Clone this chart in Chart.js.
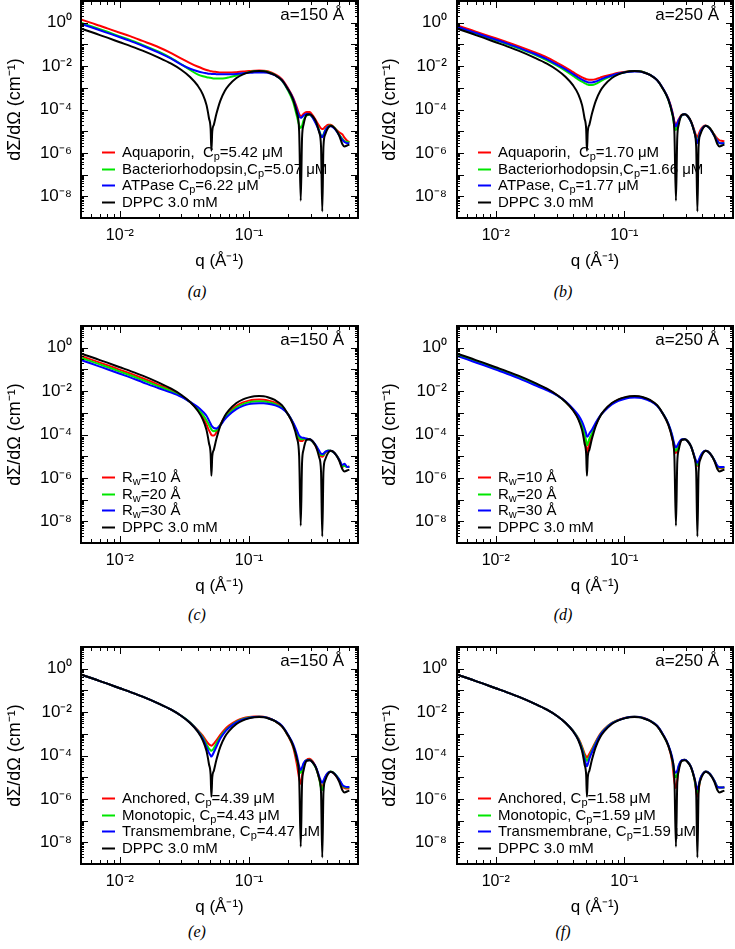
<!DOCTYPE html>
<html>
<head>
<meta charset="utf-8">
<script src="https://cdn.jsdelivr.net/npm/chart.js@4.4.0/dist/chart.umd.min.js"></script>
<style>
  body { margin: 0; background: #fff; width: 735px; height: 949px; position: relative; overflow: hidden; }
  .panel { position: absolute; }
  .cap { position: absolute; font: italic 16px "Liberation Serif", "DejaVu Serif", serif; transform: translate(-50%, -50%); }
</style>
</head>
<body>
<script>
// q values (1/Å) shared by every curve
const q = [0.005, 0.006, 0.007, 0.008, 0.01, 0.012, 0.015, 0.02, 0.025, 0.03,
  0.035, 0.04, 0.044, 0.047, 0.049, 0.0505, 0.0512, 0.052, 0.0535, 0.056,
  0.06, 0.065, 0.07, 0.08, 0.09, 0.1, 0.11, 0.12, 0.13, 0.14,
  0.16, 0.18, 0.2, 0.22, 0.235, 0.245, 0.252, 0.258, 0.265, 0.28,
  0.295, 0.31, 0.33, 0.35, 0.362, 0.37, 0.378, 0.39, 0.41, 0.43,
  0.46, 0.5, 0.53, 0.55, 0.58, 0.6];

// log10 of dΣ/dΩ (cm^-1)
const dppc = [-0.27, -0.43, -0.57, -0.69, -0.90, -1.07, -1.29, -1.61, -1.89, -2.18,
  -2.50, -2.89, -3.31, -3.81, -4.39, -4.90, -5.90, -5.00, -4.70, -4.20,
  -3.60, -3.15, -2.88, -2.55, -2.38, -2.29, -2.24, -2.23, -2.24, -2.28,
  -2.42, -2.65, -3.05, -3.55, -4.15, -5.00, -8.20, -5.30, -4.70, -4.25,
  -4.22, -4.30, -4.55, -5.05, -5.70, -8.70, -5.70, -5.15, -4.85, -4.75,
  -4.85, -5.20, -5.60, -5.70, -5.65, -5.62];

// (a) a=150
const aqp150 = [0.15, -0.01, -0.14, -0.26, -0.46, -0.62, -0.84, -1.13, -1.40, -1.66,
  -1.86, -2.02, -2.12, -2.18, -2.21, -2.23, -2.24, -2.25, -2.26, -2.27,
  -2.29, -2.30, -2.30, -2.28, -2.25, -2.23, -2.21, -2.20, -2.21, -2.24,
  -2.38, -2.60, -3.00, -3.45, -3.90, -4.20, -4.30, -4.28, -4.20, -4.12,
  -4.12, -4.25, -4.50, -4.75, -4.87, -4.90, -4.88, -4.80, -4.70, -4.70,
  -4.85, -5.05, -5.15, -5.30, -5.45, -5.50];
const bR150 = [0.00, -0.16, -0.30, -0.42, -0.63, -0.80, -1.02, -1.34, -1.63, -1.92,
  -2.18, -2.38, -2.47, -2.51, -2.53, -2.54, -2.55, -2.56, -2.57, -2.57,
  -2.57, -2.56, -2.52, -2.43, -2.34, -2.28, -2.24, -2.23, -2.24, -2.27,
  -2.42, -2.67, -3.10, -3.65, -4.30, -4.72, -4.85, -4.75, -4.50, -4.28,
  -4.24, -4.35, -4.60, -4.95, -5.20, -5.25, -5.15, -4.95, -4.78, -4.74,
  -4.85, -5.15, -5.35, -5.45, -5.50, -5.52];
const atp150 = [-0.05, -0.21, -0.35, -0.47, -0.67, -0.84, -1.06, -1.38, -1.66, -1.93,
  -2.12, -2.24, -2.30, -2.33, -2.35, -2.35, -2.36, -2.36, -2.36, -2.37,
  -2.37, -2.37, -2.37, -2.36, -2.33, -2.31, -2.30, -2.29, -2.29, -2.31,
  -2.43, -2.65, -3.05, -3.50, -4.00, -4.30, -4.38, -4.35, -4.28, -4.20,
  -4.22, -4.35, -4.65, -5.00, -5.22, -5.28, -5.18, -4.98, -4.80, -4.77,
  -4.88, -5.18, -5.40, -5.50, -5.55, -5.55];

// (b) a=250
const aqp250 = [-0.12, -0.28, -0.41, -0.53, -0.72, -0.88, -1.08, -1.36, -1.60, -1.85,
  -2.07, -2.28, -2.43, -2.52, -2.57, -2.60, -2.61, -2.62, -2.63, -2.63,
  -2.60, -2.53, -2.47, -2.38, -2.31, -2.27, -2.24, -2.23, -2.24, -2.27,
  -2.42, -2.65, -3.05, -3.50, -4.05, -4.55, -4.72, -4.60, -4.45, -4.25,
  -4.22, -4.30, -4.55, -4.95, -5.20, -5.27, -5.15, -4.95, -4.78, -4.74,
  -4.85, -5.15, -5.35, -5.42, -5.45, -5.47];
const bR250 = [-0.21, -0.37, -0.50, -0.62, -0.81, -0.97, -1.18, -1.47, -1.73, -1.98,
  -2.22, -2.45, -2.62, -2.72, -2.78, -2.82, -2.84, -2.85, -2.87, -2.87,
  -2.82, -2.70, -2.60, -2.45, -2.35, -2.29, -2.25, -2.23, -2.24, -2.27,
  -2.42, -2.65, -3.05, -3.55, -4.15, -4.75, -4.95, -4.80, -4.55, -4.27,
  -4.22, -4.30, -4.57, -5.00, -5.35, -5.50, -5.30, -5.05, -4.82, -4.75,
  -4.85, -5.18, -5.45, -5.55, -5.55, -5.55];
const atp250 = [-0.18, -0.34, -0.47, -0.59, -0.78, -0.94, -1.15, -1.43, -1.68, -1.93,
  -2.15, -2.37, -2.53, -2.62, -2.68, -2.71, -2.73, -2.74, -2.75, -2.75,
  -2.71, -2.62, -2.54, -2.43, -2.34, -2.29, -2.26, -2.25, -2.25, -2.28,
  -2.42, -2.65, -3.03, -3.52, -4.08, -4.60, -4.78, -4.65, -4.48, -4.26,
  -4.22, -4.30, -4.57, -5.00, -5.38, -5.55, -5.35, -5.05, -4.82, -4.75,
  -4.86, -5.20, -5.45, -5.55, -5.55, -5.55];

// (c) a=150, wall radius
const rw10a150 = [-0.39, -0.55, -0.69, -0.81, -1.02, -1.19, -1.41, -1.71, -1.96, -2.22,
  -2.50, -2.85, -3.20, -3.55, -3.80, -3.95, -4.02, -4.05, -4.05, -3.90,
  -3.55, -3.20, -2.98, -2.68, -2.52, -2.44, -2.40, -2.39, -2.40, -2.43,
  -2.53, -2.72, -3.05, -3.50, -3.95, -4.25, -4.30, -4.30, -4.25, -4.20,
  -4.22, -4.32, -4.55, -4.85, -5.00, -5.02, -4.98, -4.85, -4.75, -4.75,
  -4.85, -5.15, -5.50, -5.40, -5.50, -5.48];
const rw20a150 = [-0.47, -0.63, -0.77, -0.89, -1.10, -1.27, -1.49, -1.78, -2.01, -2.24,
  -2.50, -2.80, -3.10, -3.35, -3.55, -3.70, -3.77, -3.82, -3.85, -3.80,
  -3.55, -3.25, -3.03, -2.75, -2.60, -2.52, -2.48, -2.47, -2.48, -2.50,
  -2.60, -2.76, -3.05, -3.48, -3.90, -4.15, -4.22, -4.22, -4.20, -4.20,
  -4.22, -4.32, -4.52, -4.80, -4.93, -4.95, -4.93, -4.82, -4.74, -4.75,
  -4.85, -5.15, -5.45, -5.45, -5.50, -5.48];
const rw30a150 = [-0.57, -0.73, -0.87, -0.99, -1.20, -1.37, -1.59, -1.87, -2.07, -2.27,
  -2.50, -2.72, -2.95, -3.15, -3.35, -3.50, -3.58, -3.63, -3.70, -3.72,
  -3.58, -3.30, -3.10, -2.83, -2.68, -2.60, -2.57, -2.56, -2.56, -2.58,
  -2.66, -2.80, -3.05, -3.45, -3.80, -4.05, -4.12, -4.15, -4.15, -4.20,
  -4.22, -4.30, -4.50, -4.75, -4.88, -4.90, -4.88, -4.80, -4.75, -4.75,
  -4.85, -5.15, -5.40, -5.35, -5.50, -5.48];

// (d) a=250, wall radius
const rw10a250 = [-0.31, -0.47, -0.61, -0.73, -0.94, -1.11, -1.33, -1.65, -1.91, -2.18,
  -2.50, -2.88, -3.28, -3.70, -4.15, -4.60, -4.85, -4.70, -4.40, -4.05,
  -3.55, -3.15, -2.90, -2.57, -2.40, -2.31, -2.26, -2.25, -2.26, -2.30,
  -2.44, -2.67, -3.05, -3.55, -4.10, -4.70, -4.85, -4.75, -4.50, -4.25,
  -4.22, -4.30, -4.55, -5.00, -5.35, -5.45, -5.30, -5.05, -4.82, -4.75,
  -4.85, -5.18, -5.50, -5.55, -5.55, -5.55];
const rw20a250 = [-0.34, -0.50, -0.64, -0.76, -0.97, -1.14, -1.36, -1.68, -1.93, -2.19,
  -2.50, -2.86, -3.22, -3.58, -3.95, -4.30, -4.50, -4.42, -4.20, -3.95,
  -3.52, -3.15, -2.90, -2.58, -2.41, -2.32, -2.27, -2.26, -2.27, -2.31,
  -2.45, -2.67, -3.05, -3.52, -4.05, -4.60, -4.75, -4.65, -4.45, -4.24,
  -4.22, -4.30, -4.55, -5.00, -5.30, -5.40, -5.27, -5.03, -4.82, -4.75,
  -4.85, -5.17, -5.48, -5.52, -5.52, -5.52];
const rw30a250 = [-0.38, -0.54, -0.68, -0.80, -1.01, -1.18, -1.40, -1.72, -1.96, -2.20,
  -2.48, -2.82, -3.12, -3.42, -3.70, -3.95, -4.10, -4.08, -3.95, -3.78,
  -3.45, -3.13, -2.92, -2.62, -2.45, -2.36, -2.31, -2.30, -2.31, -2.34,
  -2.47, -2.68, -3.05, -3.50, -4.00, -4.45, -4.60, -4.52, -4.38, -4.22,
  -4.22, -4.30, -4.55, -4.98, -5.22, -5.30, -5.20, -5.00, -4.80, -4.75,
  -4.85, -5.17, -5.45, -5.50, -5.50, -5.50];

// (e) a=150, protein type
const anc150 = [-0.27, -0.43, -0.57, -0.69, -0.90, -1.07, -1.29, -1.61, -1.89, -2.18,
  -2.48, -2.82, -3.10, -3.35, -3.48, -3.53, -3.55, -3.53, -3.45, -3.30,
  -3.05, -2.80, -2.62, -2.40, -2.28, -2.22, -2.20, -2.20, -2.21, -2.26,
  -2.42, -2.66, -3.08, -3.62, -4.40, -5.05, -5.30, -4.95, -4.50, -4.20,
  -4.15, -4.25, -4.55, -5.05, -5.40, -5.45, -5.30, -5.00, -4.80, -4.75,
  -4.85, -5.15, -5.42, -5.50, -5.52, -5.52];
const mono150 = [-0.27, -0.43, -0.57, -0.69, -0.90, -1.07, -1.29, -1.61, -1.89, -2.18,
  -2.48, -2.84, -3.17, -3.50, -3.68, -3.76, -3.78, -3.76, -3.66, -3.45,
  -3.15, -2.88, -2.70, -2.45, -2.32, -2.25, -2.22, -2.21, -2.22, -2.27,
  -2.42, -2.65, -3.05, -3.55, -4.15, -4.65, -4.80, -4.65, -4.40, -4.22,
  -4.20, -4.30, -4.57, -5.05, -5.50, -5.60, -5.40, -5.05, -4.80, -4.74,
  -4.83, -5.10, -5.38, -5.45, -5.47, -5.47];
const trans150 = [-0.27, -0.43, -0.57, -0.69, -0.90, -1.07, -1.29, -1.61, -1.89, -2.18,
  -2.49, -2.86, -3.23, -3.62, -3.88, -4.00, -4.05, -4.00, -3.85, -3.60,
  -3.22, -2.92, -2.72, -2.47, -2.34, -2.27, -2.23, -2.22, -2.23, -2.27,
  -2.41, -2.63, -3.02, -3.48, -4.00, -4.50, -4.67, -4.55, -4.35, -4.22,
  -4.22, -4.30, -4.53, -4.95, -5.18, -5.25, -5.15, -4.98, -4.80, -4.75,
  -4.84, -5.10, -5.35, -5.42, -5.45, -5.45];

// (f) a=250, protein type
const anc250 = [-0.27, -0.43, -0.57, -0.69, -0.90, -1.07, -1.29, -1.61, -1.89, -2.18,
  -2.50, -2.86, -3.22, -3.60, -3.90, -4.05, -4.10, -4.05, -3.92, -3.70,
  -3.35, -3.00, -2.78, -2.50, -2.36, -2.27, -2.22, -2.21, -2.22, -2.26,
  -2.41, -2.64, -3.05, -3.57, -4.25, -5.20, -5.50, -5.15, -4.60, -4.23,
  -4.20, -4.28, -4.53, -5.05, -5.65, -5.90, -5.60, -5.10, -4.83, -4.74,
  -4.83, -5.15, -5.45, -5.48, -5.48, -5.47];
const mono250 = [-0.27, -0.43, -0.57, -0.69, -0.90, -1.07, -1.29, -1.61, -1.89, -2.18,
  -2.50, -2.87, -3.25, -3.66, -4.00, -4.20, -4.25, -4.20, -4.05, -3.78,
  -3.40, -3.03, -2.80, -2.51, -2.37, -2.28, -2.23, -2.22, -2.23, -2.27,
  -2.41, -2.64, -3.05, -3.55, -4.12, -4.85, -5.00, -4.85, -4.50, -4.23,
  -4.20, -4.28, -4.53, -5.05, -5.55, -5.70, -5.50, -5.08, -4.83, -4.74,
  -4.83, -5.15, -5.45, -5.48, -5.48, -5.47];
const trans250 = [-0.27, -0.43, -0.57, -0.69, -0.90, -1.07, -1.29, -1.61, -1.89, -2.18,
  -2.50, -2.88, -3.28, -3.74, -4.15, -4.42, -4.50, -4.40, -4.15, -3.85,
  -3.45, -3.06, -2.82, -2.52, -2.37, -2.28, -2.23, -2.22, -2.23, -2.27,
  -2.41, -2.63, -3.03, -3.52, -4.05, -4.70, -4.80, -4.70, -4.45, -4.22,
  -4.20, -4.28, -4.52, -5.00, -5.40, -5.55, -5.40, -5.05, -4.82, -4.74,
  -4.83, -5.15, -5.45, -5.47, -5.47, -5.46];

// tick label exponents
const xTickExp = [-2, -1];
const yTickExp = [0, -2, -4, -6, -8];

const colors = ['#ff0000', '#00e600', '#0000ff', '#000000'];
const FONT = '"Liberation Sans", Arial, sans-serif';

const panels = [
  { cap: '(a)', col: 0, row: 0, note: 'a=150 Å', sets: [aqp150, bR150, atp150],
    labels: ['Aquaporin,  C_p=5.42 μM', 'Bacteriorhodopsin,C_p=5.07 μM', 'ATPase C_p=6.22 μM'] },
  { cap: '(b)', col: 1, row: 0, note: 'a=250 Å', sets: [aqp250, bR250, atp250],
    labels: ['Aquaporin,  C_p=1.70 μM', 'Bacteriorhodopsin,C_p=1.66 μM', 'ATPase, C_p=1.77 μM'] },
  { cap: '(c)', col: 0, row: 1, note: 'a=150 Å', sets: [rw10a150, rw20a150, rw30a150],
    labels: ['R_w=10 Å', 'R_w=20 Å', 'R_w=30 Å'] },
  { cap: '(d)', col: 1, row: 1, note: 'a=250 Å', sets: [rw10a250, rw20a250, rw30a250],
    labels: ['R_w=10 Å', 'R_w=20 Å', 'R_w=30 Å'] },
  { cap: '(e)', col: 0, row: 2, note: 'a=150 Å', sets: [anc150, mono150, trans150],
    labels: ['Anchored, C_p=4.39 μM', 'Monotopic, C_p=4.43 μM', 'Transmembrane, C_p=4.47 μM'] },
  { cap: '(f)', col: 1, row: 2, note: 'a=250 Å', sets: [anc250, mono250, trans250],
    labels: ['Anchored, C_p=1.58 μM', 'Monotopic, C_p=1.59 μM', 'Transmembrane, C_p=1.59 μM'] }
];

const rowTop = [0, 325, 646];
const capY = [292, 615, 932];
const colGeom = [
  { left: 0, width: 367, yW: 81, padR: 9, tickPad: 9, titlePad: 4, capX: 197 },
  { left: 367, width: 368, yW: 90, padR: 2, tickPad: 10, titlePad: 12, capX: 563 }
];
const legendRows = [66, 49, 33, 16];

const sup = s => String(s).replace(/[-0-9]/g, c => '⁻⁰¹²³⁴⁵⁶⁷⁸⁹'['-0123456789'.indexOf(c)]);
const powLabel = v => '10' + sup(Math.round(Math.log10(v)));

function drawRich(ctx, text, x, y, size) {
  for (const part of text.split(/(_.)/)) {
    if (!part) continue;
    const sub = part[0] === '_';
    const s = sub ? part.slice(1) : part;
    ctx.font = (sub ? Math.round(size * 0.72) : size) + 'px ' + FONT;
    ctx.fillText(s, x, sub ? y + size * 0.3 : y);
    x += ctx.measureText(s).width;
  }
}

// frame with inward ticks, the "a=" note and the legend
const deco = {
  id: 'deco',
  afterDraw(chart, args, opts) {
    const { ctx, chartArea: ca, scales: { x, y } } = chart;
    ctx.save();
    ctx.strokeStyle = '#000';
    ctx.lineWidth = 1;
    ctx.beginPath();
    for (let e = -3; e <= 0; e++) {
      for (let m = 1; m <= 9; m++) {
        const v = m * Math.pow(10, e);
        if (v <= x.min || v >= x.max) continue;
        const px = Math.round(x.getPixelForValue(v)) + 0.5;
        const len = m === 1 ? 7 : 4;
        ctx.moveTo(px, ca.bottom); ctx.lineTo(px, ca.bottom - len);
        ctx.moveTo(px, ca.top); ctx.lineTo(px, ca.top + len);
      }
    }
    for (let e = -9; e <= 1; e++) {
      for (let m = 1; m <= 9; m++) {
        const v = m * Math.pow(10, e);
        if (v <= y.min || v >= y.max) continue;
        const py = Math.round(y.getPixelForValue(v)) + 0.5;
        const len = m === 1 ? 7 : 3;
        ctx.moveTo(ca.left, py); ctx.lineTo(ca.left + len, py);
        ctx.moveTo(ca.right, py); ctx.lineTo(ca.right - len, py);
      }
    }
    ctx.stroke();
    ctx.lineWidth = 2;
    ctx.strokeRect(ca.left, ca.top, ca.right - ca.left, ca.bottom - ca.top);

    ctx.fillStyle = '#000';
    ctx.textBaseline = 'middle';
    ctx.textAlign = 'right';
    ctx.font = '17px ' + FONT;
    ctx.fillText(opts.note, ca.right - 14, ca.top + 14);

    ctx.textAlign = 'left';
    chart.data.datasets.forEach((ds, i) => {
      const ly = Math.round(ca.bottom - legendRows[i]) + 0.5;
      ctx.strokeStyle = ds.borderColor;
      ctx.lineWidth = 2;
      ctx.beginPath();
      ctx.moveTo(ca.left + 21, ly);
      ctx.lineTo(ca.left + 34, ly);
      ctx.stroke();
      ctx.fillStyle = '#000';
      drawRich(ctx, ds.label, ca.left + 41, ly, 15);
    });
    ctx.restore();
  }
};

panels.forEach(p => {
  const g = colGeom[p.col];
  const box = document.createElement('div');
  box.className = 'panel';
  box.style.left = g.left + 'px';
  box.style.top = rowTop[p.row] + 'px';
  const canvas = document.createElement('canvas');
  canvas.width = g.width;
  canvas.height = 276;
  box.appendChild(canvas);
  document.body.appendChild(box);

  const cap = document.createElement('div');
  cap.className = 'cap';
  cap.textContent = p.cap;
  cap.style.left = g.capX + 'px';
  cap.style.top = capY[p.row] + 'px';
  document.body.appendChild(cap);

  const series = [...p.sets, dppc];
  const labels = [...p.labels, 'DPPC 3.0 mM'];
  const datasets = series.map((arr, i) => ({
    label: labels[i],
    data: q.map((x, k) => ({ x: x, y: Math.pow(10, arr[k]) })),
    borderColor: colors[i],
    borderWidth: 2,
    pointRadius: 0,
    cubicInterpolationMode: 'monotone',
    order: 3 - i
  }));

  new Chart(canvas, {
    type: 'line',
    data: { datasets },
    plugins: [deco],
    options: {
      responsive: false,
      animation: false,
      layout: { padding: { left: 0, right: g.padR, top: 1, bottom: 0 } },
      plugins: {
        legend: { display: false },
        tooltip: { enabled: false },
        deco: { note: p.note }
      },
      scales: {
        x: {
          type: 'logarithmic',
          min: 0.005,
          max: 0.7,
          grid: { display: false, drawTicks: false },
          border: { display: false },
          afterBuildTicks: s => { s.ticks = xTickExp.map(e => ({ value: Math.pow(10, e) })); },
          afterFit: s => { s.height = 58; s.paddingLeft = 0; s.paddingRight = 0; },
          ticks: { autoSkip: false, maxRotation: 0, padding: 8, color: '#000',
            font: { size: 16, family: FONT }, callback: v => powLabel(v) },
          title: { display: true, text: 'q (Å⁻¹)', color: '#000',
            font: { size: 17, family: FONT }, padding: { top: 0, bottom: 4 } }
        },
        y: {
          type: 'logarithmic',
          min: 1e-9,
          max: 10,
          grid: { display: false, drawTicks: false },
          border: { display: false },
          afterBuildTicks: s => { s.ticks = yTickExp.map(e => ({ value: Math.pow(10, e) })); },
          afterFit: s => { s.width = g.yW; s.paddingTop = 0; s.paddingBottom = 0; },
          ticks: { autoSkip: false, padding: g.tickPad, color: '#000',
            font: { size: 17, family: FONT }, callback: v => powLabel(v) },
          title: { display: true, text: 'dΣ/dΩ (cm⁻¹)', color: '#000',
            font: { size: 18, family: FONT }, padding: { top: g.titlePad, bottom: 0 } }
        }
      }
    }
  });
});
</script>
</body>
</html>
